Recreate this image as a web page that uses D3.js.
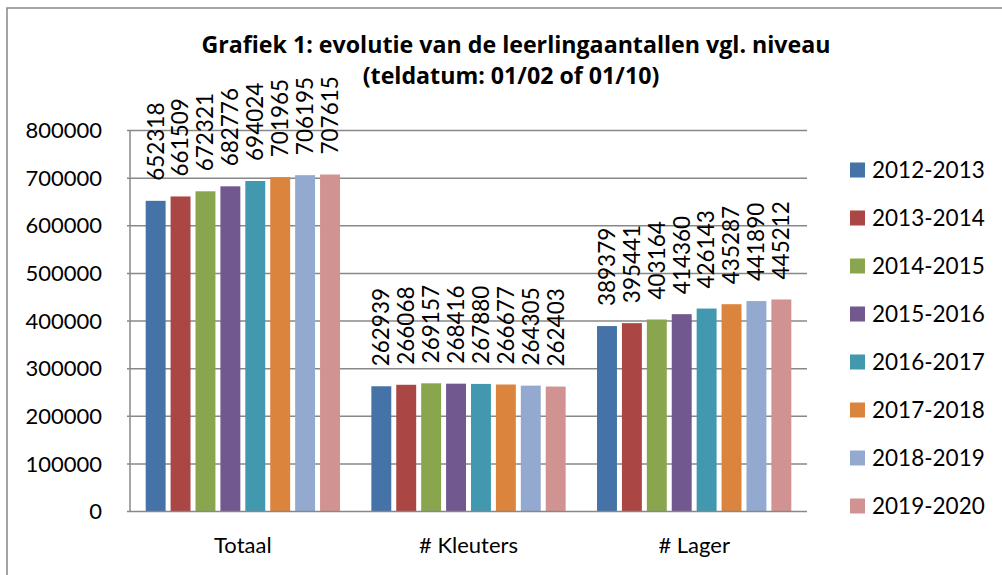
<!DOCTYPE html>
<html>
<head>
<meta charset="utf-8">
<script src="https://cdn.jsdelivr.net/npm/d3@7"></script>
<style>
    body { margin: 0; background: #fff; }
    svg text { font-family: Lato, "Open Sans", sans-serif; fill: #000; font-variant-ligatures: none; }
    svg text.title { font-family: "Open Sans", Lato, sans-serif; font-weight: bold; font-size: 23.2px; }
</style>
</head>
<body>
<svg id="chart" width="1002" height="575"></svg>
<script>
const categories = ['Totaal', '# Kleuters', '# Lager'];
const years = ['2012-2013', '2013-2014', '2014-2015', '2015-2016',
    '2016-2017', '2017-2018', '2018-2019', '2019-2020'];
const totaal = [652318, 661509, 672321, 682776, 694024, 701965, 706195, 707615];
const kleuters = [262939, 266068, 269157, 268416, 267880, 266677, 264305, 262403];
const lager = [389379, 395441, 403164, 414360, 426143, 435287, 441890, 445212];
const yTicks = [0, 100000, 200000, 300000, 400000, 500000, 600000, 700000, 800000];
const colors = ['#4572A7', '#AA4643', '#89A54E', '#71588F', '#4198AF', '#DB843D', '#93A9CF', '#D19392'];

const values = [totaal, kleuters, lager];

const svg = d3.select('#chart');

// chart border
svg.append('rect')
    .attr('x', 7).attr('y', 8)
    .attr('width', 1010).attr('height', 600)
    .attr('fill', 'none')
    .attr('stroke', '#868686')
    .attr('stroke-width', 1.5);

const plotLeft = 130, plotRight = 807, plotTop = 130.5, plotBottom = 511.5;

const x0 = d3.scaleBand()
    .domain(categories)
    .range([plotLeft, plotRight])
    .paddingInner(0.139)
    .paddingOuter(0.0695);

const x1 = d3.scaleBand()
    .domain(years)
    .range([0, x0.bandwidth()])
    .paddingInner(0.2);

const y = d3.scaleLinear()
    .domain([0, 800000])
    .range([plotBottom, plotTop]);

// gridlines
svg.append('g')
    .selectAll('line')
    .data(yTicks.slice(1))
    .enter()
    .append('line')
    .attr('x1', plotLeft - 3)
    .attr('x2', plotRight)
    .attr('y1', d => y(d))
    .attr('y2', d => y(d))
    .style('stroke', '#888')
    .style('stroke-width', 1.5);

// y tick labels
svg.append('g')
    .selectAll('text')
    .data(yTicks)
    .enter()
    .append('text')
    .attr('x', 102)
    .attr('y', d => y(d))
    .attr('dy', '0.35em')
    .attr('text-anchor', 'end')
    .style('font-size', '22px')
    .text(d => d);

// bars
const groups = svg.append('g')
    .selectAll('g')
    .data(categories)
    .enter()
    .append('g')
    .attr('transform', d => `translate(${x0(d)},0)`);

groups.selectAll('rect')
    .data((d, i) => values[i].map((v, j) => ({ year: years[j], value: v, c: j })))
    .enter()
    .append('rect')
    .attr('x', d => x1(d.year))
    .attr('y', d => y(d.value))
    .attr('width', x1.bandwidth())
    .attr('height', d => y(0) - y(d.value))
    .style('fill', d => colors[d.c]);

// value labels
groups.selectAll('text')
    .data((d, i) => values[i].map((v, j) => ({ year: years[j], value: v })))
    .enter()
    .append('text')
    .attr('transform', d => `translate(${x1(d.year) + x1.bandwidth() / 2},${y(d.value) - 20}) rotate(-90)`)
    .attr('dy', '0.35em')
    .style('font-size', '22.5px')
    .text(d => d.value);

// axes lines
svg.append('line')
    .attr('x1', plotLeft).attr('x2', plotLeft)
    .attr('y1', plotTop).attr('y2', plotBottom)
    .style('stroke', '#888').style('stroke-width', 1.5);

svg.append('line')
    .attr('x1', plotLeft - 3).attr('x2', plotRight)
    .attr('y1', plotBottom).attr('y2', plotBottom)
    .style('stroke', '#888').style('stroke-width', 1.5);

// category labels
svg.append('g')
    .selectAll('text')
    .data(categories)
    .enter()
    .append('text')
    .attr('x', d => x0(d) + x0.bandwidth() / 2)
    .attr('y', 553)
    .attr('text-anchor', 'middle')
    .style('font-size', '22px')
    .text(d => d);

// title
svg.append('text')
    .attr('class', 'title')
    .attr('x', 516).attr('y', 53)
    .attr('text-anchor', 'middle')
    .text('Grafiek 1: evolutie van de leerlingaantallen vgl. niveau');

svg.append('text')
    .attr('class', 'title')
    .attr('x', 511).attr('y', 84)
    .attr('text-anchor', 'middle')
    .text('(teldatum: 01/02 of 01/10)');

// legend
const legend = svg.append('g')
    .selectAll('g')
    .data(years)
    .enter()
    .append('g')
    .attr('transform', (d, i) => `translate(850,${170 + i * 48})`);

legend.append('rect')
    .attr('x', 0).attr('y', -7.5)
    .attr('width', 15).attr('height', 15)
    .style('fill', (d, i) => colors[i]);

legend.append('text')
    .attr('x', 22)
    .attr('dy', '0.35em')
    .style('font-size', '22.5px')
    .text(d => d);
</script>
</body>
</html>
